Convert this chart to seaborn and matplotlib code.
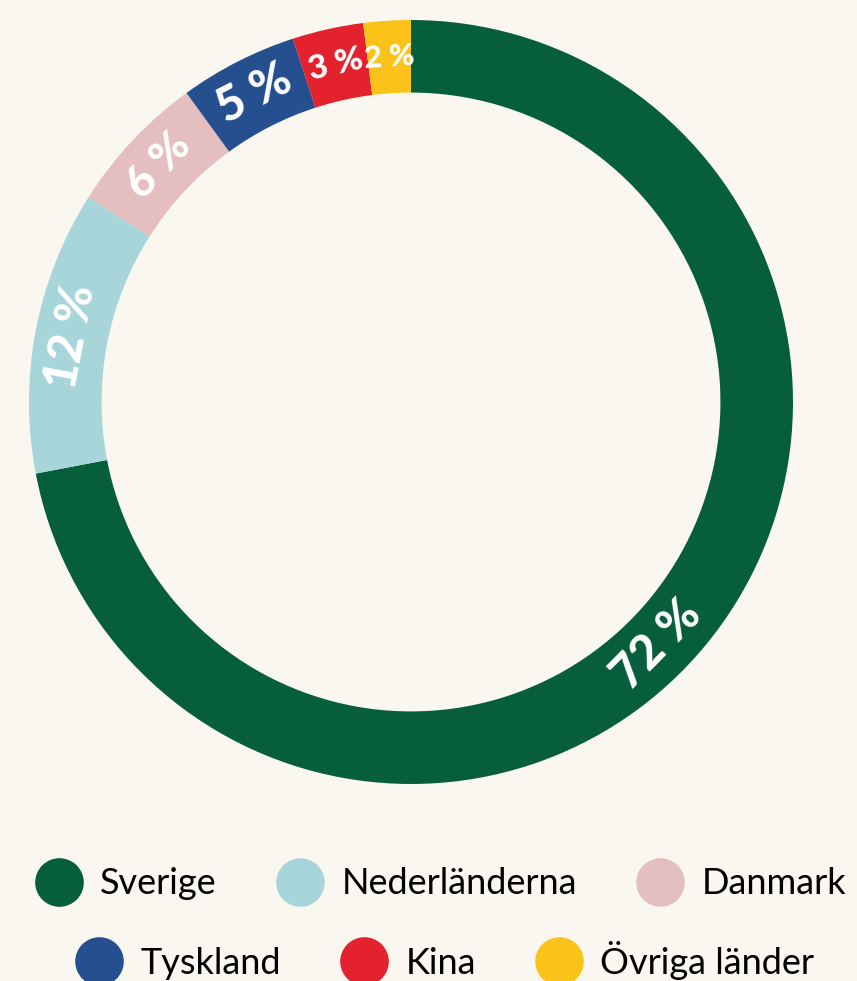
import numpy as np
import matplotlib.pyplot as plt
import seaborn as sns
from matplotlib.lines import Line2D

# data
countries = ['Sverige', 'Nederländerna', 'Danmark', 'Tyskland', 'Kina', 'Övriga länder']
shares = [72, 12, 6, 5, 3, 2]
share_labels = ['72 %', '12 %', '6 %', '5 %', '3 %', '2 %']
colors = ['#075E3C', '#A8D5D9', '#E5BEC0', '#254F8F', '#E4222E', '#FBC31A']

# label styling
label_size = [34, 34, 32, 34, 24, 22]
angle_shift = [-5, 0, 0, 0, 0, 0]

sns.set_theme(style='white')
plt.rcParams['font.family'] = ['Lato', 'DejaVu Sans']

BG = '#FAF7F0'
RING = 0.19

fig = plt.figure(figsize=(8.57, 9.81), dpi=100, facecolor=BG)
ax = fig.add_axes([29 / 857, 196 / 981, 764 / 857, 766 / 981])
ax.set_facecolor(BG)

wedges, _ = ax.pie(shares, colors=sns.color_palette(colors), startangle=90,
                   counterclock=False, radius=1,
                   wedgeprops=dict(width=RING, linewidth=0))
ax.set_xlim(-1, 1)
ax.set_ylim(-1, 1)

# percentage labels along the ring
r = 1 - RING / 2
for w, lab, size, shift in zip(wedges, share_labels, label_size, angle_shift):
    mid = (w.theta1 + w.theta2) / 2 + shift
    x, y = r * np.cos(np.radians(mid)), r * np.sin(np.radians(mid))
    rot = mid % 180 - 90
    ax.text(x, y, lab, rotation=rot, rotation_mode='anchor', ha='center',
            va='center', color='white', fontsize=size, fontweight='black')

# legend in two rows
handles = [Line2D([], [], marker='o', linestyle='', markersize=35,
                  markerfacecolor=c, markeredgewidth=0) for c in colors]
common = dict(loc='center', ncol=3, frameon=False, fontsize=26,
              labelcolor='black', handlelength=1.4, handletextpad=0.45,
              columnspacing=1.6)
fig.legend(handles[:3], countries[:3], bbox_to_anchor=(0.513, 0.099), **common)
fig.legend(handles[3:], countries[3:], bbox_to_anchor=(0.518, 0.021), **common)

fig.savefig('out.png', dpi=100, facecolor=BG)
plt.close()
